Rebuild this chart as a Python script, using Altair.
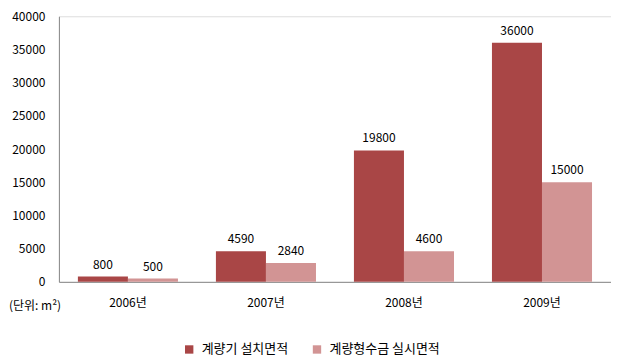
import altair as alt
import pandas as pd

years = ["2006년", "2007년", "2008년", "2009년"]
series = ["계량기 설치면적", "계량형수금 실시면적"]
installed = [800, 4590, 19800, 36000]
billed = [500, 2840, 4600, 15000]
colors = ["#A94646", "#D29494"]

rows = []
for i, y in enumerate(years):
    rows.append({"year": y, "series": series[0], "value": installed[i]})
    rows.append({"year": y, "series": series[1], "value": billed[i]})
df = pd.DataFrame(rows)

FONT = "Noto Sans CJK KR"

x = alt.X("year:N", sort=years, title=None,
          scale=alt.Scale(paddingInner=0.275, paddingOuter=0.1375),
          axis=alt.Axis(labelAngle=0, tickSize=0, domainColor="#8a8a8a",
                        labelPadding=16, labelFontSize=12, labelColor="#000",
                        labelFont=FONT))
xo = alt.XOffset("series:N", sort=series, scale=alt.Scale(paddingInner=0, paddingOuter=0))
y = alt.Y("value:Q", title=None,
          scale=alt.Scale(domain=[0, 40000], nice=False),
          axis=alt.Axis(values=list(range(0, 40001, 5000)), grid=False, tickSize=0,
                        domainColor="#8a8a8a", labelPadding=14, labelFontSize=12,
                        labelColor="#000", labelFont=FONT, format="d"))
color = alt.Color("series:N", sort=series,
                  scale=alt.Scale(domain=series, range=colors),
                  legend=alt.Legend(title=None, orient="none", direction="horizontal",
                                    legendX=124, legendY=327, symbolType="square",
                                    symbolSize=70, symbolStrokeWidth=0,
                                    labelFontSize=13, labelFont=FONT, labelColor="#000",
                                    columnPadding=22, symbolOffset=0, labelOffset=6))

base = alt.Chart(df)
bars = base.mark_bar().encode(x=x, xOffset=xo, y=y, color=color)
labels = base.mark_text(dy=-5, fontSize=12, font=FONT, color="#000", baseline="bottom").encode(
    x=x, xOffset=xo, y=y, text=alt.Text("value:Q", format="d"))

unit = alt.Chart(pd.DataFrame({"t": ["(단위: m²)"]})).mark_text(
    align="left", baseline="middle", fontSize=12, font=FONT, color="#000").encode(
    x=alt.value(-50), y=alt.value(290), text="t:N")

chart = alt.layer(bars, labels, unit).properties(
    width=553, height=266,
    padding={"left": 51, "top": 8, "right": 0, "bottom": 78},
    autosize="none",
).configure_view(stroke=None).configure(background="white")

chart.save("out.html", embed_options={"renderer": "svg", "actions": False})
